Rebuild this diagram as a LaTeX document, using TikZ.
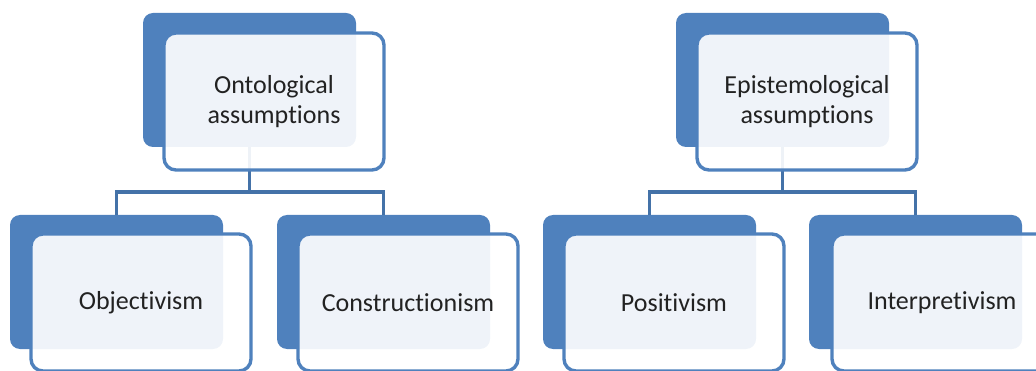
\documentclass[tikz,border=0pt]{standalone}
\usepackage{fontspec}
\setmainfont{Carlito}[Ligatures=CommonOff]
\definecolor{accent}{HTML}{4F81BD}
\definecolor{linkblue}{HTML}{4472A8}
\definecolor{inktext}{HTML}{222222}
\begin{document}
\begin{tikzpicture}[x=1pt,y=-1pt,
  backbox/.style={fill=accent,draw=none,rounded corners=10pt,anchor=north west,
    minimum width=213pt,minimum height=134pt,inner sep=0pt,outer sep=0pt},
  frontbox/.style={fill=white,fill opacity=0.91,draw=accent,line width=3.4pt,
    rounded corners=12pt,anchor=north west,minimum width=220pt,minimum height=137pt,
    inner sep=0pt,outer sep=0pt,text=inktext,text opacity=1,align=center,
    font=\fontsize{26}{30}\selectfont},
  link/.style={draw=linkblue,line width=3.4pt}]
\useasboundingbox (0,0) rectangle (1036,371);
\clip (0,0) rectangle (1036,371);

% back plates
\node[backbox] (ontoB) at (143,13) {};
\node[backbox] (episB) at (676,13) {};
\node[backbox] (objB)  at (10,215) {};
\node[backbox] (consB) at (277,215) {};
\node[backbox] (posB)  at (543,215) {};
\node[backbox] (intB)  at (809,215) {};

% tree connectors (drawn under the front panels)
\coordinate (ontoJ) at (ontoB.south |- 0,192);
\coordinate (episJ) at (episB.south |- 0,192);
\draw[link] (ontoB.south) -- (ontoJ);
\draw[link] (objB.north) -- (objB.north |- ontoJ) -- (consB.north |- ontoJ) -- (consB.north);
\draw[link] (episB.south) -- (episJ);
\draw[link] (posB.north) -- (posB.north |- episJ) -- (intB.north |- episJ) -- (intB.north);

% front panels with labels
\node[frontbox] (ontoF) at (164,33) {Ontological\\assumptions};
\node[frontbox] (episF) at (697,33) {Epistemological\\assumptions};
\node[frontbox] (objF)  at (31,234)  {Objectivism};
\node[frontbox] (consF) at (298,234) {Constructionism};
\node[frontbox] (posF)  at (564,234) {Positivism};
\node[frontbox] (intF)  at (832,234) {Interpretivism};
\end{tikzpicture}
\end{document}
